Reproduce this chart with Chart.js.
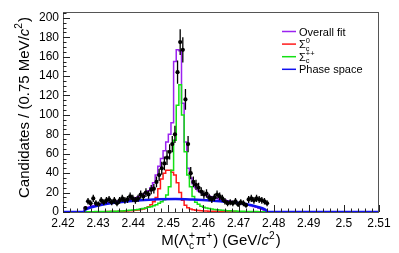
<!DOCTYPE html>
<html>
<head>
<meta charset="utf-8">
<script src="https://cdn.jsdelivr.net/npm/chart.js@4.4.1/dist/chart.umd.min.js"></script>
<style>
  html, body { margin: 0; padding: 0; background: #fff; }
  canvas { display: block; }
</style>
</head>
<body>
<canvas id="massChart" width="399" height="253"></canvas>
<script>
// binning of the M(Lambda_c pi) histogram, 0.75 MeV per bin
const binLow = 2.42;
const binWidth = 0.00075;
const firstBin = 8;

// candidates per bin, bins 8..77
const counts = [
    4, 11, 9, 14, 9, 8, 12, 10, 12, 13, 10, 12,
    9, 12, 14, 12, 13, 16, 14, 12, 14, 18,
    16, 20, 18, 23, 24, 31, 38, 45, 50, 56,
    62, 70, 80, 144, 175, 167, 116, 70, 40, 31,
    28, 25, 21, 18, 19, 15, 13, 15, 18, 16,
    14, 11, 9, 10, 9, 11, 8, 10, 9, 7,
    13, 14, 12, 14, 13, 12, 11, 9
];

// overall fit
const fitTotal = [
    2.3, 3.9, 4.9, 5.7, 6.5, 7.2, 7.9, 8.5, 9.0, 9.6, 10.0, 10.5,
    10.9, 11.3, 11.7, 12.1, 12.5, 12.9, 13.4, 14.0, 14.6, 15.5,
    17, 18.5, 20, 22, 25, 30, 38, 47, 55, 63,
    72, 80, 92, 155, 167, 166, 112, 72, 45, 35,
    29, 25, 22, 20, 18, 17, 16.3, 15.6, 14.8, 14,
    13.2, 12.5, 12, 11.5, 11.0, 10.5, 10.0, 9.5, 9.0, 8.5,
    7.9, 7.2, 6.5, 5.7, 4.8, 3.8, 2.8, 1.6
];

// Sigma_c0 component
const sigma0Fit = [
    0.1, 0.1, 0.1, 0.2, 0.2, 0.2, 0.3, 0.3, 0.3, 0.4, 0.4, 0.5,
    0.5, 0.6, 0.7, 0.8, 0.9, 1.0, 1.2, 1.4, 1.7, 2.1,
    2.6, 3.2, 4.0, 5.5, 7.5, 10.5, 15, 24, 34, 40,
    43, 43, 41, 38, 30, 20, 12, 7, 4.5, 3.2,
    2.4, 1.9, 1.6, 1.3, 1.1, 1.0, 0.9, 0.8, 0.7, 0.7,
    0.6, 0.6, 0.5, 0.5, 0.4, 0.4, 0.4, 0.3, 0.3, 0.3,
    0.2, 0.2, 0.2, 0.2, 0.1, 0.1, 0.1, 0.1
];

// Sigma_c++ component
const sigmaPPFit = [
    0.2, 0.2, 0.3, 0.3, 0.3, 0.4, 0.4, 0.5, 0.5, 0.6, 0.6, 0.7,
    0.8, 0.9, 1.0, 1.1, 1.3, 1.5, 1.7, 2.0, 2.3, 2.7,
    3.1, 3.6, 4.2, 4.8, 5.5, 6.5, 7.5, 9, 10.5, 12.5,
    17.5, 26, 43, 74, 110, 131, 100, 62, 38, 26,
    16, 10, 8, 6, 5, 4.2, 3.5, 3.0, 2.6, 2.3,
    2.0, 1.8, 1.6, 1.4, 1.2, 1.1, 1.0, 0.9, 0.8, 0.7,
    0.6, 0.5, 0.5, 0.4, 0.4, 0.3, 0.2, 0.2
];

// phase space curve
const phaseMass = [2.42, 2.426, 2.4262, 2.427, 2.4295, 2.4335, 2.438, 2.442, 2.447, 2.452,
    2.457, 2.462, 2.466, 2.470, 2.473, 2.4752, 2.4775, 2.4785, 2.51];
const phaseFit = [0, 0, 1.5, 3.5, 6.2, 9.0, 10.8, 12.2, 13.2, 13.4,
    12.8, 11.8, 10.6, 9.2, 7.5, 5.5, 2.8, 0, 0];

const massTicks = [2.42, 2.43, 2.44, 2.45, 2.46, 2.47, 2.48, 2.49, 2.5, 2.51];
const countTicks = [0, 20, 40, 60, 80, 100, 120, 140, 160, 180, 200];

const FONT = "'Liberation Sans', Arial, Helvetica, sans-serif";
const colTotal = '#9b22f0';
const colSig0 = '#ff1a1a';
const colSigPP = '#14e014';
const colPhase = '#1010f0';

function edge(i) {
    return binLow + binWidth * i;
}

// step histogram points along bin edges
function histPoints(values) {
    const pts = [{ x: edge(firstBin), y: 0 }];
    values.forEach((v, k) => pts.push({ x: edge(firstBin + k), y: v }));
    pts.push({ x: edge(firstBin + values.length), y: 0 });
    return pts;
}

// text with sub/superscripts, parts like {text}, {text, it}, {sub, sup}
function partWidth(ctx, p, size) {
    if (p.text !== undefined) {
        ctx.font = (p.it ? 'italic ' : '') + size + 'px ' + FONT;
        return ctx.measureText(p.text).width;
    }
    ctx.font = (size * 0.68) + 'px ' + FONT;
    const a = p.sub ? ctx.measureText(p.sub).width : 0;
    const b = p.sup ? ctx.measureText(p.sup).width : 0;
    return Math.max(a, b) + 1;
}

function drawRich(ctx, parts, x, y, size, align) {
    const widths = parts.map(p => partWidth(ctx, p, size));
    const total = widths.reduce((a, b) => a + b, 0);
    let cx = align === 'left' ? x : x - total / 2;
    ctx.textAlign = 'left';
    ctx.textBaseline = 'alphabetic';
    ctx.fillStyle = '#000';
    parts.forEach((p, i) => {
        if (p.text !== undefined) {
            ctx.font = (p.it ? 'italic ' : '') + size + 'px ' + FONT;
            ctx.fillText(p.text, cx, y);
        } else {
            ctx.font = (size * 0.68) + 'px ' + FONT;
            if (p.sup) ctx.fillText(p.sup, cx, y - size * 0.42);
            if (p.sub) ctx.fillText(p.sub, cx, y + size * 0.25);
        }
        cx += widths[i];
    });
}

const legendRows = [
    { color: colTotal, parts: [{ text: 'Overall fit' }] },
    { color: colSig0, parts: [{ text: 'Σ' }, { sub: 'c', sup: '0' }] },
    { color: colSigPP, parts: [{ text: 'Σ' }, { sub: 'c', sup: '++' }] },
    { color: colPhase, parts: [{ text: 'Phase space' }] }
];

const rootStyle = {
    id: 'rootStyle',
    afterDraw(chart) {
        const ctx = chart.ctx;
        const area = chart.chartArea;
        const xs = chart.scales.x;
        const ys = chart.scales.y;

        ctx.save();
        // error bars
        ctx.strokeStyle = '#000';
        ctx.lineWidth = 1.3;
        counts.forEach((n, k) => {
            const c = edge(firstBin + k) + binWidth / 2;
            const e = Math.sqrt(n);
            const px = xs.getPixelForValue(c);
            ctx.beginPath();
            ctx.moveTo(px, ys.getPixelForValue(Math.max(0, n - e)));
            ctx.lineTo(px, ys.getPixelForValue(n + e));
            ctx.moveTo(xs.getPixelForValue(c - binWidth / 2), ys.getPixelForValue(n));
            ctx.lineTo(xs.getPixelForValue(c + binWidth / 2), ys.getPixelForValue(n));
            ctx.stroke();
        });

        // frame
        ctx.lineWidth = 1;
        ctx.strokeStyle = '#555';
        ctx.strokeRect(area.left + 0.5, area.top + 0.5, area.right - area.left - 1, area.bottom - area.top);

        // inward ticks
        ctx.strokeStyle = '#222';
        ctx.beginPath();
        for (let v = 0; v <= 205; v += 5) {
            const py = Math.round(ys.getPixelForValue(v)) + 0.5;
            const len = v % 20 === 0 ? 7 : 3.5;
            ctx.moveTo(area.left, py);
            ctx.lineTo(area.left + len, py);
        }
        for (let k = 0; k <= 45; k++) {
            const px = Math.round(xs.getPixelForValue(binLow + k * 0.002)) + 0.5;
            const len = k % 5 === 0 ? 7 : 3.5;
            ctx.moveTo(px, area.bottom);
            ctx.lineTo(px, area.bottom - len);
        }
        ctx.stroke();

        // axis titles
        drawRich(ctx, [
            { text: 'M(Λ' }, { sub: 'c', sup: '+' }, { text: 'π' }, { sup: '+' },
            { text: ') (GeV/' }, { text: 'c', it: true }, { sup: '2' }, { text: ')' }
        ], 221, 245, 15);

        ctx.save();
        ctx.translate(28.5, 107.5);
        ctx.rotate(-Math.PI / 2);
        drawRich(ctx, [
            { text: 'Candidates / (0.75 MeV/' }, { text: 'c', it: true }, { sup: '2' }, { text: ')' }
        ], 0, 0, 15);
        ctx.restore();

        // legend
        legendRows.forEach((row, k) => {
            const y = 31.5 + k * 12.6;
            ctx.strokeStyle = row.color;
            ctx.lineWidth = 1.5;
            ctx.beginPath();
            ctx.moveTo(282, y);
            ctx.lineTo(296, y);
            ctx.stroke();
            drawRich(ctx, row.parts, 299, y + 4, 11, 'left');
        });
        ctx.restore();
    }
};

document.addEventListener('DOMContentLoaded', function() {
    const ctx = document.getElementById('massChart').getContext('2d');

    const dataPoints = counts.map((n, k) => ({ x: edge(firstBin + k) + binWidth / 2, y: n }));
    const phasePoints = phaseMass.map((m, k) => ({ x: m, y: phaseFit[k] }));

    const stepStyle = { type: 'line', stepped: 'after', pointRadius: 0, borderWidth: 1.5, fill: false };

    new Chart(ctx, {
        type: 'line',
        data: {
            datasets: [
                { type: 'scatter', label: 'Data', data: dataPoints, pointRadius: 2.1, pointBorderWidth: 0,
                  backgroundColor: '#000', borderColor: '#000', order: 0 },
                { label: 'Phase space', data: phasePoints, borderColor: colPhase, borderWidth: 2.5,
                  pointRadius: 0, cubicInterpolationMode: 'monotone', fill: false, order: 1 },
                Object.assign({ label: 'Sigma_c++', data: histPoints(sigmaPPFit), borderColor: colSigPP, order: 2 }, stepStyle),
                Object.assign({ label: 'Sigma_c0', data: histPoints(sigma0Fit), borderColor: colSig0, order: 3 }, stepStyle),
                Object.assign({ label: 'Overall fit', data: histPoints(fitTotal), borderColor: colTotal, order: 4 }, stepStyle)
            ]
        },
        options: {
            responsive: false,
            animation: false,
            devicePixelRatio: 1,
            layout: { padding: { left: 0, right: 20, top: 12, bottom: 0 } },
            plugins: { legend: { display: false }, tooltip: { enabled: false } },
            scales: {
                x: {
                    type: 'linear',
                    min: 2.42,
                    max: 2.51,
                    afterFit: scale => { scale.height = 41; },
                    afterBuildTicks: scale => { scale.ticks = massTicks.map(v => ({ value: v })); },
                    grid: { display: false, drawTicks: false },
                    border: { display: false },
                    ticks: {
                        padding: 4,
                        maxRotation: 0,
                        autoSkip: false,
                        color: '#000',
                        font: { family: FONT, size: 12 },
                        callback: v => String(Number(v.toFixed(2)))
                    }
                },
                y: {
                    type: 'linear',
                    min: 0,
                    max: 206,
                    afterFit: scale => { scale.width = 63; },
                    afterBuildTicks: scale => { scale.ticks = countTicks.map(v => ({ value: v })); },
                    grid: { display: false, drawTicks: false },
                    border: { display: false },
                    ticks: {
                        padding: 4,
                        autoSkip: false,
                        color: '#000',
                        font: { family: FONT, size: 12 }
                    }
                }
            }
        },
        plugins: [rootStyle]
    });
});
</script>
</body>
</html>
